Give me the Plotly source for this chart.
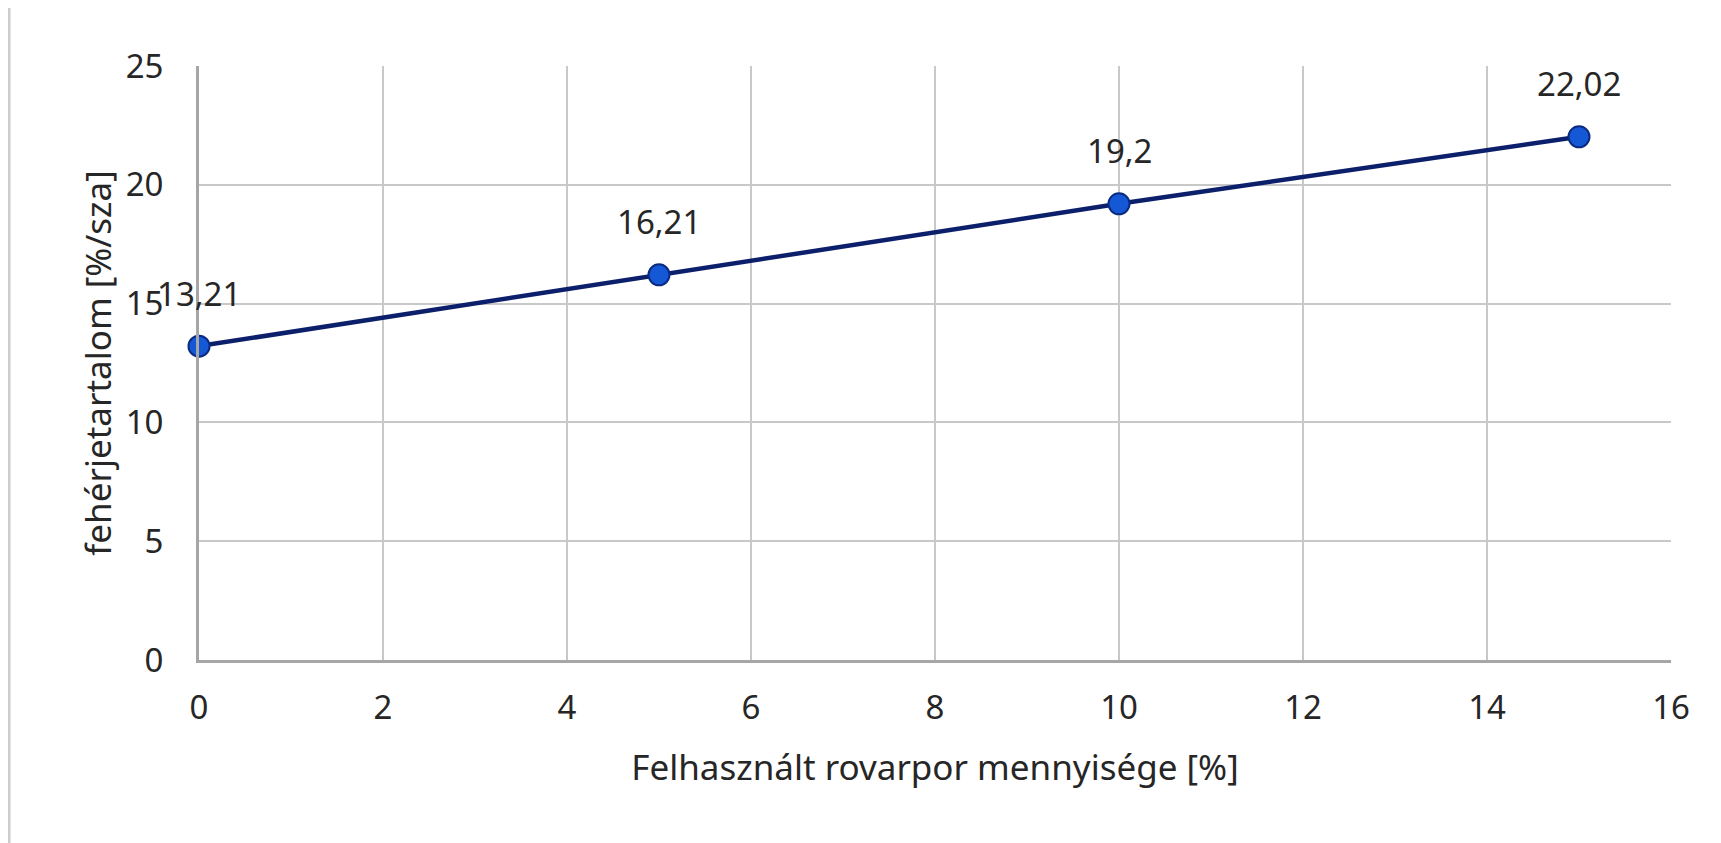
import plotly.graph_objects as go

x_vals = [0, 5, 10, 15]
y_vals = [13.21, 16.21, 19.2, 22.02]
labels = [str(v).replace(".", ",") for v in y_vals]

x_title = "Felhasznált rovarpor mennyisége [%]"
y_title = "fehérjetartalom [%/sza]"

FONT = "Noto Sans"
FS = 33
TFS = 35
TXT = "#262626"

# page body has an 8px margin: compensate
L, R, T, B = 191, 58, 58, 191
PW = 1721 - L - R
PH = 843 - T - B

fig = go.Figure()
fig.add_trace(go.Scatter(
    x=x_vals, y=y_vals, mode="lines+markers",
    line=dict(color="#0b1f6b", width=4.5),
    marker=dict(size=21, color="#1558d6", line=dict(color="#0b2a80", width=2)),
    showlegend=False, cliponaxis=False,
))

for xv, yv, lab in zip(x_vals, y_vals, labels):
    fig.add_annotation(x=xv, y=yv, text=lab, showarrow=False,
                       yshift=53, font=dict(family=FONT, size=FS, color=TXT))

fig.add_shape(type="line", xref="paper", yref="paper",
              x0=(1 - L) / PW, x1=(1 - L) / PW,
              y0=-B / PH, y1=1 + T / PH,
              line=dict(color="#cccccc", width=3))

fig.update_layout(
    width=1721, height=843,
    margin=dict(l=L, r=R, t=T, b=B, autoexpand=False),
    paper_bgcolor="white", plot_bgcolor="white",
    font=dict(family=FONT, size=FS, color=TXT),
    xaxis=dict(
        range=[0, 16], dtick=2, tick0=0,
        showgrid=True, gridcolor="#c8c8c8", gridwidth=2,
        showline=True, linecolor="#a6a6a6", linewidth=3,
        zeroline=False, ticks="", ticklabelstandoff=16,
        title=dict(text=x_title, standoff=28, font=dict(size=TFS)),
        automargin=False,
    ),
    yaxis=dict(
        range=[0, 25], dtick=5, tick0=0,
        showgrid=True, gridcolor="#c8c8c8", gridwidth=2,
        showline=True, linecolor="#a6a6a6", linewidth=3,
        zeroline=False, ticks="", ticklabelstandoff=26,
        title=dict(text=y_title, standoff=4, font=dict(size=TFS)),
        automargin=False,
    ),
)

fig.write_html("out.html")
